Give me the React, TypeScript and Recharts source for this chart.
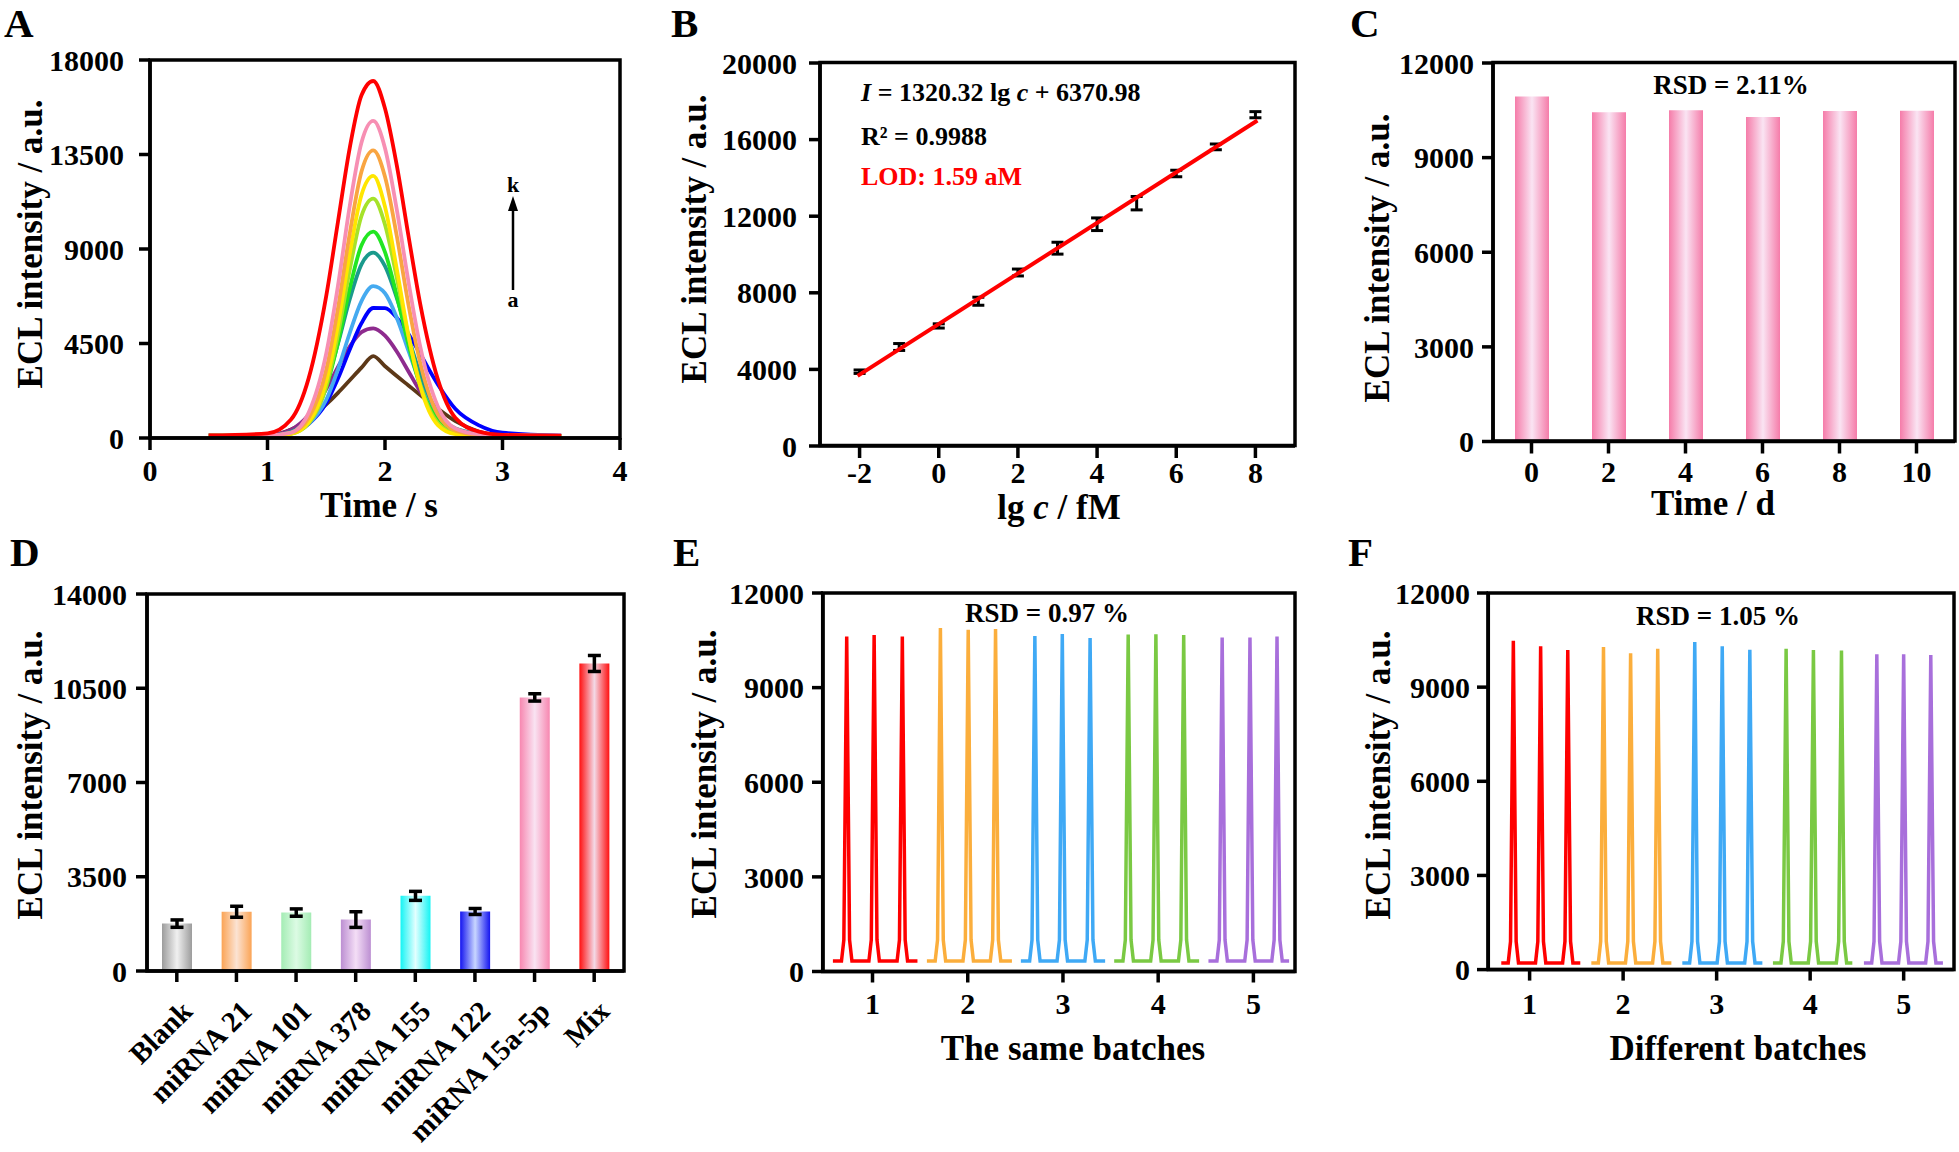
import React from 'react';
import {
  LineChart, Line, BarChart, Bar, ScatterChart, Scatter,
  XAxis, YAxis, ErrorBar, Cell,
} from 'recharts';

const FONT = "'Times New Roman', 'Liberation Serif', Times, serif";

// ---------------- Panel A : ECL-time curves a..k ----------------
const timeA = [0.5, 1.0, 1.2, 1.35, 1.5, 1.6, 1.7, 1.8, 1.9, 2.0, 2.1, 2.2, 2.3, 2.45, 2.6, 2.8, 3.0, 3.5];
const curveA_a = [110, 120, 400, 900, 1600, 2150, 2750, 3350, 3900, 3420, 2950, 2500, 2050, 1400, 800, 300, 130, 100];
const curveA_b = [110, 130, 400, 1100, 2330, 3380, 4360, 5040, 5220, 4870, 4120, 3170, 2210, 1070, 420, 160, 110, 100];
const curveA_c = [110, 120, 250, 670, 1660, 2830, 4210, 5470, 6190, 6180, 5730, 4950, 4000, 2550, 1380, 600, 250, 110];
const curveA_d = [110, 120, 230, 670, 1820, 3270, 5000, 6520, 7230, 6890, 5730, 4150, 2610, 1020, 390, 180, 120, 100];
const curveA_e = [110, 120, 300, 960, 2610, 4500, 6610, 8270, 8830, 8180, 6670, 4790, 3030, 1200, 450, 200, 120, 100];
const curveA_f = [110, 120, 220, 750, 2420, 4550, 7120, 9180, 9830, 8850, 6790, 4440, 2480, 870, 270, 120, 100, 100];
const curveA_g = [110, 120, 200, 690, 2460, 4920, 8010, 10580, 11400, 10160, 7630, 4820, 2550, 720, 240, 120, 100, 100];
const curveA_h = [110, 120, 200, 750, 2700, 5390, 8770, 11580, 12480, 11010, 8060, 4890, 2460, 610, 180, 110, 100, 100];
const curveA_i = [110, 120, 250, 950, 3250, 6190, 9740, 12690, 13700, 12440, 9630, 6340, 3570, 1110, 350, 150, 120, 100];
const curveA_j = [110, 130, 260, 1200, 4030, 7260, 11050, 14070, 15100, 13800, 10890, 7430, 4350, 1500, 450, 180, 130, 110];
const curveA_k = [120, 220, 880, 2840, 6770, 10310, 13820, 16320, 17000, 15690, 12990, 9620, 6380, 2790, 950, 300, 150, 110];
const keysA = ['a', 'b', 'c', 'd', 'e', 'f', 'g', 'h', 'i', 'j', 'k'];
const colorsA = ['#5c3818', '#8e2b8e', '#0000ff', '#45aaf0', '#1a9a8c', '#22e622', '#a6e22a', '#ffe600', '#f9a541', '#f78fb3', '#ff0000'];
const curvesA = [curveA_a, curveA_b, curveA_c, curveA_d, curveA_e, curveA_f, curveA_g, curveA_h, curveA_i, curveA_j, curveA_k];
const ticksXA = [0, 1, 2, 3, 4];
const ticksYA = [0, 4500, 9000, 13500, 18000];

const tableA = timeA.map((t, i) => {
  const row: Record<string, number> = { t };
  keysA.forEach((k, j) => { row[k] = curvesA[j][i]; });
  return row;
});

// ---------------- Panel B : calibration ----------------
const lgcB = [-2, -1, 0, 1, 2, 3, 4, 5, 6, 7, 8];
const eclB = [3880, 5170, 6270, 7560, 9060, 10330, 11580, 12680, 14230, 15620, 17300];
const errB = [90, 180, 110, 210, 180, 310, 330, 350, 170, 150, 160];
const fitXB = [-2.05, 8.05];
const fitYB = [3664, 17000];
const ticksXB = [-2, 0, 2, 4, 6, 8];
const ticksYB = [0, 4000, 8000, 12000, 16000, 20000];
const pointsB = lgcB.map((x, i) => ({ x, y: eclB[i], e: errB[i] }));
const fitB = fitXB.map((x, i) => ({ x, y: fitYB[i] }));

// ---------------- Panel C : stability ----------------
const daysC = ['0', '2', '4', '6', '8', '10'];
const eclC = [10940, 10440, 10500, 10290, 10480, 10490];
const ticksYC = [0, 3000, 6000, 9000, 12000];
const tableC = daysC.map((d, i) => ({ d, v: eclC[i] }));

// ---------------- Panel D : selectivity ----------------
const catsD = ['Blank', 'miRNA 21', 'miRNA 101', 'miRNA 378', 'miRNA 155', 'miRNA 122', 'miRNA 15a-5p', 'Mix'];
const eclD = [1760, 2200, 2170, 1910, 2790, 2210, 10160, 11420];
const errD = [137, 204, 136, 291, 167, 111, 136, 297];
const edgeD = ['#9c9c9c', '#fba455', '#a4ecb4', '#bc8fd2', '#14f4f4', '#1414f0', '#f787b0', '#ff1010'];
const midD = ['#f0f0f0', '#fbe3d3', '#dcfbe4', '#f4def6', '#e2ffff', '#c8d6ff', '#f9e3f2', '#f3d9e6'];
const ticksYD = [0, 3500, 7000, 10500, 14000];
const tableD = catsD.map((n, i) => ({ n, v: eclD[i], e: errD[i] }));

// ---------------- Panel E : same batches ----------------
const sameRed = [[0.584, 330], [0.674, 330], [0.699, 1000], [0.729, 10620], [0.759, 1000], [0.784, 330], [0.962, 330], [0.987, 1000], [1.017, 10670], [1.047, 1000], [1.072, 330], [1.258, 330], [1.283, 1000], [1.313, 10620], [1.343, 1000], [1.368, 330], [1.472, 330]];
const sameOrange = [[1.571, 330], [1.658, 330], [1.683, 1000], [1.713, 10890], [1.743, 1000], [1.768, 330], [1.95, 330], [1.975, 1000], [2.005, 10835], [2.035, 1000], [2.06, 330], [2.237, 330], [2.262, 1000], [2.292, 10860], [2.322, 1000], [2.347, 330], [2.464, 330]];
const sameBlue = [[2.558, 330], [2.65, 330], [2.675, 1000], [2.705, 10640], [2.735, 1000], [2.76, 330], [2.938, 330], [2.963, 1000], [2.993, 10700], [3.023, 1000], [3.048, 330], [3.23, 330], [3.255, 1000], [3.285, 10575], [3.315, 1000], [3.34, 330], [3.443, 330]];
const sameGreen = [[3.538, 330], [3.63, 330], [3.655, 1000], [3.685, 10680], [3.715, 1000], [3.74, 330], [3.921, 330], [3.946, 1000], [3.976, 10695], [4.006, 1000], [4.031, 330], [4.213, 330], [4.238, 1000], [4.268, 10670], [4.298, 1000], [4.323, 330], [4.43, 330]];
const samePurple = [[4.528, 330], [4.617, 330], [4.642, 1000], [4.672, 10590], [4.702, 1000], [4.727, 330], [4.909, 330], [4.934, 1000], [4.964, 10590], [4.994, 1000], [5.019, 330], [5.193, 330], [5.218, 1000], [5.248, 10620], [5.278, 1000], [5.303, 330], [5.375, 330]];

// ---------------- Panel F : different batches ----------------
const diffRed = [[0.697, 210], [0.771, 210], [0.796, 900], [0.826, 10480], [0.856, 900], [0.881, 210], [1.063, 210], [1.088, 900], [1.118, 10300], [1.148, 900], [1.173, 210], [1.353, 210], [1.378, 900], [1.408, 10180], [1.438, 900], [1.463, 210], [1.542, 210]];
const diffOrange = [[1.66, 210], [1.735, 210], [1.76, 900], [1.79, 10280], [1.82, 900], [1.845, 210], [2.025, 210], [2.05, 900], [2.08, 10080], [2.11, 900], [2.135, 210], [2.315, 210], [2.34, 900], [2.37, 10220], [2.4, 900], [2.425, 210], [2.516, 210]];
const diffBlue = [[2.633, 210], [2.711, 210], [2.736, 900], [2.766, 10440], [2.796, 900], [2.821, 210], [3.005, 210], [3.03, 900], [3.06, 10300], [3.09, 900], [3.115, 210], [3.3, 210], [3.325, 900], [3.355, 10190], [3.385, 900], [3.41, 210], [3.489, 210]];
const diffGreen = [[3.602, 210], [3.688, 210], [3.713, 900], [3.743, 10220], [3.773, 900], [3.798, 210], [3.98, 210], [4.005, 900], [4.035, 10180], [4.065, 900], [4.09, 210], [4.28, 210], [4.305, 900], [4.335, 10170], [4.365, 900], [4.39, 210], [4.451, 210]];
const diffPurple = [[4.575, 210], [4.658, 210], [4.683, 900], [4.713, 10050], [4.743, 900], [4.768, 210], [4.945, 210], [4.97, 900], [5.0, 10050], [5.03, 900], [5.055, 210], [5.235, 210], [5.26, 900], [5.29, 10020], [5.32, 900], [5.345, 210], [5.42, 210]];

const batchColors = ['#ff0000', '#fbae3c', '#3fa9f5', '#7ac943', '#a86fdb'];
const ticksXEF = [1, 2, 3, 4, 5];
const ticksYEF = [0, 3000, 6000, 9000, 12000];
const toXY = (arr: number[][]) => arr.map(([x, y]) => ({ x, y }));
const seriesE = [sameRed, sameOrange, sameBlue, sameGreen, samePurple].map(toXY);
const seriesF = [diffRed, diffOrange, diffBlue, diffGreen, diffPurple].map(toXY);

// ---------------- layout helpers ----------------
type Box = { L: number; T: number; R: number; B: number };
const YW = 120;
const MT = 30;
const MR = 40;
const boxA: Box = { L: 150, T: 60, R: 620, B: 438 };
const boxB: Box = { L: 820, T: 62.5, R: 1295, B: 445.5 };
const boxC: Box = { L: 1493, T: 62.5, R: 1955, B: 441 };
const boxD: Box = { L: 147, T: 594, R: 624, B: 971 };
const boxE: Box = { L: 822.7, T: 593, R: 1295, B: 971.5 };
const boxF: Box = { L: 1488.3, T: 593, R: 1954, B: 969.6 };
const boxes = [boxA, boxB, boxC, boxD, boxE, boxF];

const place = (b: Box): React.CSSProperties => ({ position: 'absolute', left: b.L - YW, top: b.T - MT });
const size = (b: Box, xh: number) => ({ width: b.R - b.L + YW + MR, height: b.B - b.T + MT + xh });
const margin = { top: MT, right: MR, bottom: 0, left: 0 };

const AX = { stroke: '#000', strokeWidth: 3.5 };
const TICK = { fontSize: 30, fontWeight: 700, fill: '#000', fontFamily: FONT };

const yAxis = (ticks: number[], tickMargin: number, dataKey?: string) => (
  <YAxis
    dataKey={dataKey}
    type="number"
    domain={[ticks[0], ticks[ticks.length - 1]]}
    ticks={ticks}
    interval={0}
    allowDataOverflow
    width={YW}
    tickSize={11}
    tickMargin={tickMargin}
    axisLine={AX}
    tickLine={AX}
    tick={TICK}
  />
);

const RotTick = (props: any) => {
  const { x, y, payload } = props;
  return (
    <g transform={`translate(${x + 17},${y + 29})`}>
      <text textAnchor="end" transform="rotate(-45)" fontSize={29} fontWeight={700} fontFamily={FONT} fill="#000">
        {payload.value}
      </text>
    </g>
  );
};

const noShape = () => <g />;

const titleStyle = { fontFamily: FONT, fontWeight: 700, fontSize: 35, fill: '#000' } as const;
const letterStyle = { fontFamily: FONT, fontWeight: 700, fontSize: 41, fill: '#000' } as const;
const noteStyle = { fontFamily: FONT, fontWeight: 700, fontSize: 27, fill: '#000' } as const;

const YTitle = ({ x, y }: { x: number; y: number }) => (
  <text x={x} y={y} transform={`rotate(-90 ${x} ${y})`} textAnchor="middle" style={titleStyle}>
    ECL intensity / a.u.
  </text>
);

export default function App() {
  return (
    <div style={{ position: 'absolute', left: 0, top: 0, width: 1959, height: 1152, overflow: 'hidden', background: '#fff' }}>
      <svg width={0} height={0} style={{ position: 'absolute' }}>
        <defs>
          <linearGradient id="gradC" x1="0" y1="0" x2="1" y2="0">
            <stop offset="0%" stopColor="#f57ca9" />
            <stop offset="50%" stopColor="#fae4f3" />
            <stop offset="100%" stopColor="#f57ca9" />
          </linearGradient>
          {edgeD.map((c, i) => (
            <linearGradient key={i} id={`gradD${i}`} x1="0" y1="0" x2="1" y2="0">
              <stop offset="0%" stopColor={c} />
              <stop offset="50%" stopColor={midD[i]} />
              <stop offset="100%" stopColor={c} />
            </linearGradient>
          ))}
        </defs>
      </svg>

      {/* A */}
      <div style={place(boxA)}>
        <LineChart {...size(boxA, 60)} data={tableA} margin={margin}>
          <XAxis dataKey="t" type="number" domain={[0, 4]} ticks={ticksXA} interval={0} allowDataOverflow height={60}
            tickSize={12} tickMargin={10} axisLine={AX} tickLine={AX} tick={TICK} />
          {yAxis(ticksYA, 15)}
          {keysA.map((k, i) => (
            <Line key={k} dataKey={k} type="monotone" stroke={colorsA[i]} strokeWidth={3.8} dot={false} isAnimationActive={false} />
          ))}
        </LineChart>
      </div>

      {/* B */}
      <div style={place(boxB)}>
        <ScatterChart {...size(boxB, 60)} margin={margin}>
          <XAxis dataKey="x" type="number" domain={[-3, 9]} ticks={ticksXB} interval={0} allowDataOverflow height={60}
            tickSize={12} tickMargin={4} axisLine={AX} tickLine={AX} tick={TICK} />
          {yAxis(ticksYB, 12, 'y')}
          <Scatter data={fitB} line={{ stroke: '#ff0000', strokeWidth: 4 }} shape={noShape} isAnimationActive={false} />
          <Scatter data={pointsB} shape={noShape} isAnimationActive={false}>
            <ErrorBar dataKey="e" direction="y" width={6} strokeWidth={3} stroke="#000" isAnimationActive={false} />
          </Scatter>
        </ScatterChart>
      </div>

      {/* C */}
      <div style={place(boxC)}>
        <BarChart {...size(boxC, 60)} data={tableC} margin={margin}>
          <XAxis dataKey="d" type="category" interval={0} height={60}
            tickSize={12} tickMargin={7} axisLine={AX} tickLine={AX} tick={TICK} />
          {yAxis(ticksYC, 8)}
          <Bar dataKey="v" barSize={34} fill="url(#gradC)" isAnimationActive={false} />
        </BarChart>
      </div>

      {/* D */}
      <div style={place(boxD)}>
        <BarChart {...size(boxD, 185)} data={tableD} margin={margin}>
          <XAxis dataKey="n" type="category" interval={0} height={185}
            tickSize={11} tickMargin={2} axisLine={AX} tickLine={AX} tick={<RotTick />} />
          {yAxis(ticksYD, 9)}
          <Bar dataKey="v" barSize={30} isAnimationActive={false}>
            {tableD.map((_, i) => <Cell key={i} fill={`url(#gradD${i})`} />)}
            <ErrorBar dataKey="e" width={6.5} strokeWidth={3.5} stroke="#000" isAnimationActive={false} />
          </Bar>
        </BarChart>
      </div>

      {/* E */}
      <div style={place(boxE)}>
        <LineChart {...size(boxE, 60)} margin={margin}>
          <XAxis dataKey="x" type="number" domain={[0.48, 5.44]} ticks={ticksXEF} interval={0} allowDataOverflow height={60}
            tickSize={11} tickMargin={10} axisLine={AX} tickLine={AX} tick={TICK} />
          {yAxis(ticksYEF, 8)}
          {seriesE.map((d, i) => (
            <Line key={i} data={d} dataKey="y" type="linear" stroke={batchColors[i]} strokeWidth={3.5} dot={false} isAnimationActive={false} />
          ))}
        </LineChart>
      </div>

      {/* F */}
      <div style={place(boxF)}>
        <LineChart {...size(boxF, 60)} margin={margin}>
          <XAxis dataKey="x" type="number" domain={[0.555, 5.535]} ticks={ticksXEF} interval={0} allowDataOverflow height={60}
            tickSize={11} tickMargin={12} axisLine={AX} tickLine={AX} tick={TICK} />
          {yAxis(ticksYEF, 7)}
          {seriesF.map((d, i) => (
            <Line key={i} data={d} dataKey="y" type="linear" stroke={batchColors[i]} strokeWidth={3.5} dot={false} isAnimationActive={false} />
          ))}
        </LineChart>
      </div>

      {/* frames and texts */}
      <svg width={1959} height={1152} style={{ position: 'absolute', left: 0, top: 0, pointerEvents: 'none' }}>
        {boxes.map((b, i) => (
          <rect key={i} x={b.L} y={b.T} width={b.R - b.L} height={b.B - b.T} fill="none" stroke="#000" strokeWidth={3.5} />
        ))}

        <text x={4} y={37} style={letterStyle}>A</text>
        <text x={671} y={37} style={letterStyle}>B</text>
        <text x={1350} y={37} style={letterStyle}>C</text>
        <text x={10} y={566} style={letterStyle}>D</text>
        <text x={673} y={566} style={letterStyle}>E</text>
        <text x={1348} y={566} style={letterStyle}>F</text>

        <YTitle x={41.5} y={244} />
        <YTitle x={706} y={239} />
        <YTitle x={1389} y={258} />
        <YTitle x={41.5} y={775} />
        <YTitle x={715.5} y={774} />
        <YTitle x={1389.5} y={775} />

        <text x={379} y={517} textAnchor="middle" style={titleStyle}>Time / s</text>
        <text x={1059} y={519} textAnchor="middle" style={titleStyle}>
          <tspan>lg </tspan><tspan fontStyle="italic">c</tspan><tspan> / fM</tspan>
        </text>
        <text x={1713} y={515} textAnchor="middle" style={titleStyle}>Time / d</text>
        <text x={1073} y={1060} textAnchor="middle" style={titleStyle}>The same batches</text>
        <text x={1738} y={1060} textAnchor="middle" style={titleStyle}>Different batches</text>

        {/* A arrow */}
        <line x1={513} y1={290} x2={513} y2={206} stroke="#000" strokeWidth={2.5} />
        <polygon points="513,196 508,211 518,211" fill="#000" />
        <text x={513} y={192} textAnchor="middle" style={{ ...noteStyle, fontSize: 22 }}>k</text>
        <text x={513} y={307} textAnchor="middle" style={{ ...noteStyle, fontSize: 22 }}>a</text>

        {/* B annotations */}
        <text x={861} y={101} style={{ ...noteStyle, fontSize: 26 }}>
          <tspan fontStyle="italic">I</tspan><tspan> = 1320.32 lg </tspan><tspan fontStyle="italic">c</tspan><tspan> + 6370.98</tspan>
        </text>
        <text x={861} y={145} style={{ ...noteStyle, fontSize: 26 }}>R² = 0.9988</text>
        <text x={861} y={185} style={{ ...noteStyle, fontSize: 26, fill: '#ff0000' }}>LOD: 1.59 aM</text>

        <text x={1731} y={94} textAnchor="middle" style={noteStyle}>RSD = 2.11%</text>
        <text x={1047} y={622} textAnchor="middle" style={noteStyle}>RSD = 0.97 %</text>
        <text x={1718} y={625} textAnchor="middle" style={noteStyle}>RSD = 1.05 %</text>
      </svg>
    </div>
  );
}
